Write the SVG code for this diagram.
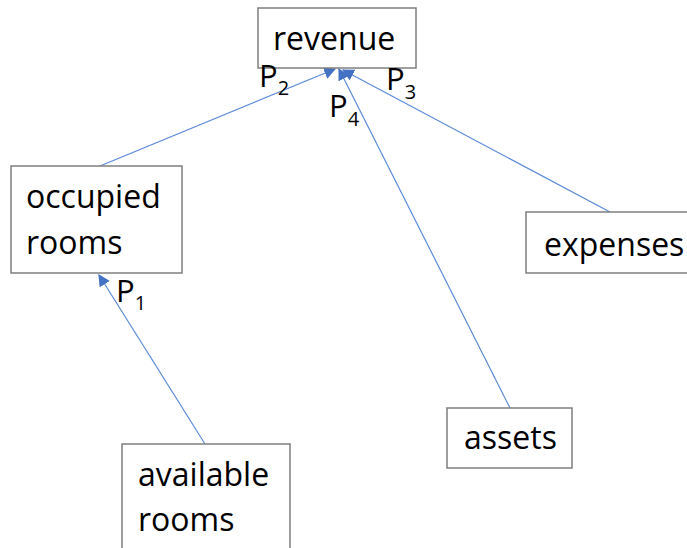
<svg xmlns="http://www.w3.org/2000/svg" width="687" height="548" viewBox="0 0 687 548">
<defs>
<style>
.box{fill:#fff;stroke:#7f7f7f;stroke-width:1.5}
.t{font-family:"Open Sans","Liberation Sans",sans-serif;font-size:32px;fill:#000}
.p{font-family:"Open Sans","Liberation Sans",sans-serif;font-size:31px;fill:#000}
.s{font-size:20px}
.c{stroke:#5B8AD6;stroke-width:1.2;fill:none;marker-end:url(#ah)}
</style>
<marker id="ah" viewBox="0 0 10 10" refX="9" refY="5" markerWidth="12" markerHeight="12" markerUnits="userSpaceOnUse" orient="auto">
<path d="M0,0 L10,5 L0,10 z" fill="#4472C4"/>
</marker>
</defs>
<rect width="687" height="548" fill="#fff"/>
<g id="connectors">
<line class="c" x1="100" y1="166" x2="335" y2="69"/>
<line class="c" x1="510" y1="408" x2="339" y2="69"/>
<line class="c" x1="610" y1="212" x2="343" y2="70"/>
<line class="c" x1="205" y1="444" x2="99" y2="275"/>
</g>
<g id="revenue">
<rect class="box" x="258" y="8" width="158" height="60"/>
<text class="t" x="273" y="50">revenue</text>
</g>
<g id="occupied">
<rect class="box" x="11" y="166" width="171" height="107"/>
<text class="t" x="26" y="208">occupied</text>
<text class="t" x="26" y="254">rooms</text>
</g>
<g id="available">
<rect class="box" x="122" y="444" width="168" height="120"/>
<text class="t" x="138" y="486">available</text>
<text class="t" x="138" y="531">rooms</text>
</g>
<g id="expenses">
<rect class="box" x="526" y="212" width="180" height="61"/>
<text class="t" x="544" y="256">expenses</text>
</g>
<g id="assets">
<rect class="box" x="447" y="408" width="125" height="60"/>
<text class="t" x="464" y="449">assets</text>
</g>
<g id="labels">
<text class="p" x="259" y="87">P<tspan class="s" dy="8">2</tspan></text>
<text class="p" x="386" y="90">P<tspan class="s" dy="9">3</tspan></text>
<text class="p" x="329" y="117">P<tspan class="s" dy="9">4</tspan></text>
<text class="p" x="116" y="302">P<tspan class="s" dy="8">1</tspan></text>
</g>
</svg>
